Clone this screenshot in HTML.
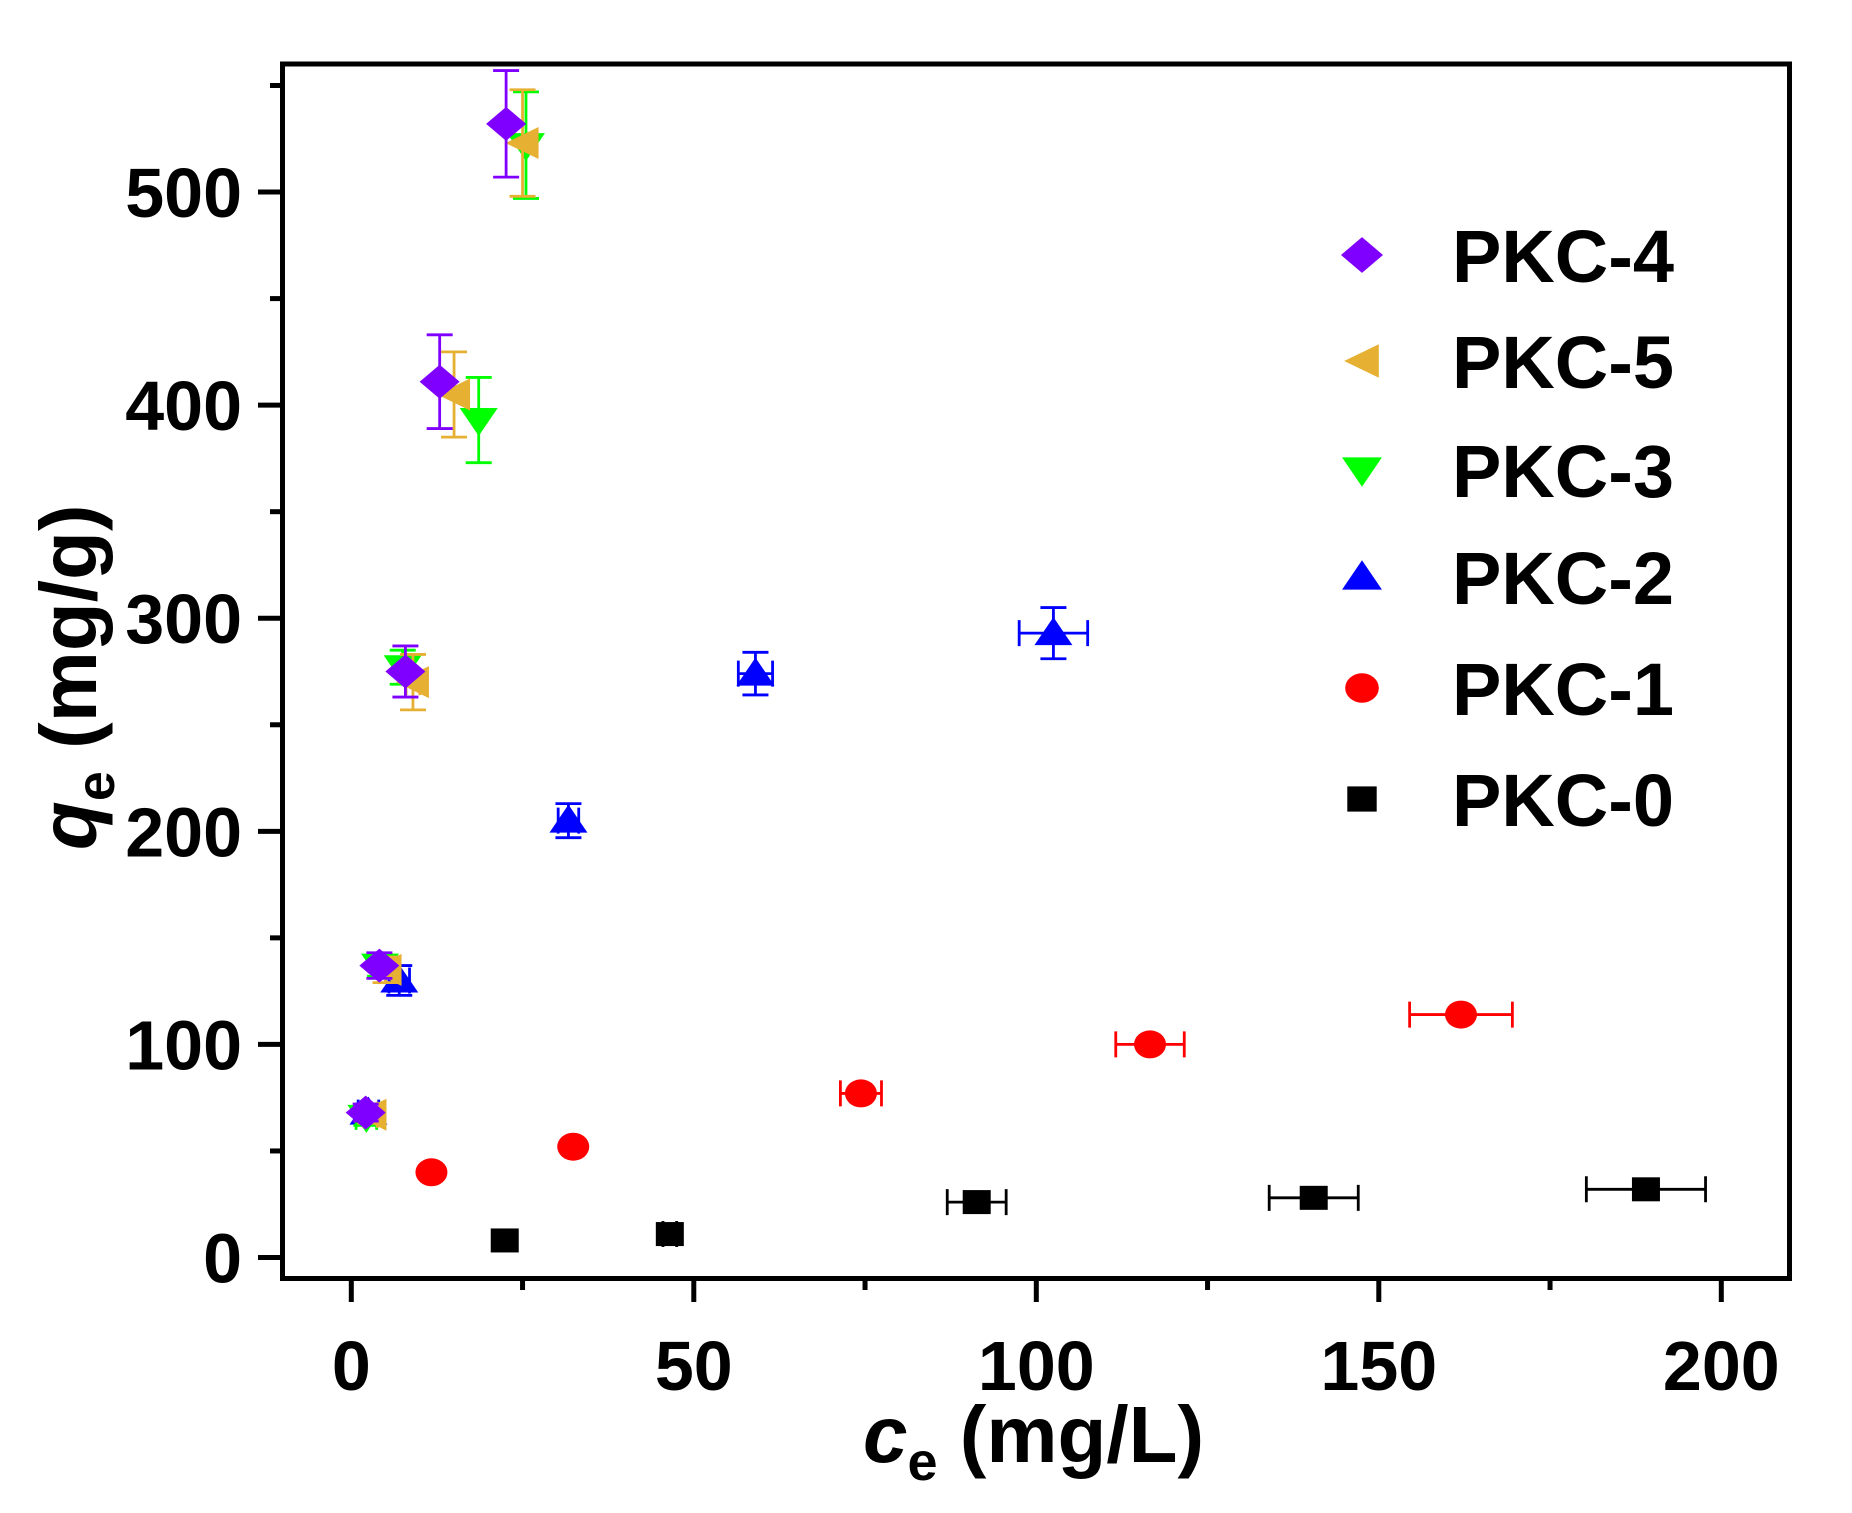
<!DOCTYPE html>
<html><head><meta charset="utf-8"><style>
html,body{margin:0;padding:0;background:#fff;}
svg{display:block;font-family:"Liberation Sans",Arial,sans-serif;font-weight:bold;}
</style></head><body>
<svg id="chart" width="1852" height="1513" viewBox="0 0 1852 1513" xmlns="http://www.w3.org/2000/svg">
<rect x="0" y="0" width="1852" height="1513" fill="#fff"/>
<g id="marks"></g>
<rect x="282.5" y="64" width="1507" height="1214.5" fill="none" stroke="#000" stroke-width="5"/>
<g id="axes"></g>
<text x="863" y="1462" font-size="80"><tspan font-style="italic">c</tspan><tspan font-size="54" dy="18">e</tspan><tspan dy="-18"> (mg/L)</tspan></text>
<text transform="translate(96,850) rotate(-90)" font-size="80"><tspan font-style="italic">q</tspan><tspan font-size="54" dy="18">e</tspan><tspan dy="-18"> (mg/g)</tspan></text>
<g id="legend"></g>
</svg>
<script>
const xTicks=[0,50,100,150,200];
const yTicks=[0,100,200,300,400,500];
const seriesNames=["PKC-0","PKC-1","PKC-2","PKC-3","PKC-5","PKC-4"];
const pkc0X=[22.4,46.5,91.3,140.5,189];
const pkc0Y=[8,11,26,28,32];
const pkc0Ex=[0,1,4.3,6.5,8.7];
const pkc0Ey=[0,0,0,0,0];
const pkc1X=[11.7,32.4,74.4,116.6,162];
const pkc1Y=[40,52,77,100,114];
const pkc1Ex=[0,0,3,5,7.5];
const pkc1Ey=[0,0,0,0,0];
const pkc2X=[2.5,7,31.7,59,102.5];
const pkc2Y=[68,130,205,274,293];
const pkc2Ex=[1.5,1.5,1.5,2.5,5];
const pkc2Ey=[4,7,8,10,12];
const pkc3X=[2.2,4.2,7.5,18.6,25.5];
const pkc3Y=[66,137,277,393,522];
const pkc3Ex=[1.5,1,0,0,0];
const pkc3Ey=[4,5,8,20,25];
const pkc5X=[2.8,5,9,15,25];
const pkc5Y=[67,135,270,405,523];
const pkc5Ex=[1,1,1,0,0];
const pkc5Ey=[4,6,13,20,25];
const pkc4X=[2.1,4.1,7.9,12.9,22.6];
const pkc4Y=[68,137,275,411,532];
const pkc4Ex=[0,0,0,0,0];
const pkc4Ey=[4,6,12,22,25];

const X0=351.3,X1=1721.3,Y0=1257.5,Y1=85.5;
function sx(v){return X0+(X1-X0)*v/200;}
function sy(v){return Y0+(Y1-Y0)*v/550;}
const NS="http://www.w3.org/2000/svg";
function mk(tag,attrs,parent){const e=document.createElementNS(NS,tag);for(const k in attrs)e.setAttribute(k,attrs[k]);parent.appendChild(e);return e;}

const axes=document.getElementById('axes');
for(let v=0;v<=200;v+=25){
  const major=v%50===0;
  const t=mk('line',{x1:sx(v),x2:sx(v),y1:1278,y2:major?1302:1290,stroke:'#000','stroke-width':5},axes);
  
  
}
xTicks.forEach(v=>{
  const t=mk('text',{x:sx(v),y:1390,'font-size':70,'text-anchor':'middle'},axes);
  t.textContent=v;
  
  
});
for(let v=0;v<=550;v+=50){
  const major=v%100===0;
  const t=mk('line',{x1:major?258:270,x2:282,y1:sy(v),y2:sy(v),stroke:'#000','stroke-width':5},axes);
  
  
}
yTicks.forEach(v=>{
  const t=mk('text',{x:242,y:sy(v)+25,'font-size':70,'text-anchor':'end'},axes);
  t.textContent=v;
  
  
});

function marker(shape,cx,cy,color,parent,k){
  k=k||1;let e;
  if(shape==='square') e=mk('rect',{x:cx-14*k,y:cy-12*k,width:28*k,height:24*k,fill:color},parent);
  else if(shape==='circle') e=mk('ellipse',{cx:cx,cy:cy,rx:16*k,ry:14*k,fill:color},parent);
  else if(shape==='up') e=mk('polygon',{points:`${cx},${cy-16*k} ${cx+19*k},${cy+12*k} ${cx-19*k},${cy+12*k}`,fill:color},parent);
  else if(shape==='down') e=mk('polygon',{points:`${cx-19*k},${cy-12*k} ${cx+19*k},${cy-12*k} ${cx},${cy+16*k}`,fill:color},parent);
  else if(shape==='left') e=mk('polygon',{points:`${cx-17*k},${cy} ${cx+16*k},${cy-16*k} ${cx+16*k},${cy+16*k}`,fill:color},parent);
  else e=mk('polygon',{points:`${cx},${cy-17*k} ${cx+20*k},${cy} ${cx},${cy+17*k} ${cx-20*k},${cy}`,fill:color},parent);
  return e;
}
const series=[
  {name:seriesNames[0],x:pkc0X,y:pkc0Y,ex:pkc0Ex,ey:pkc0Ey,color:'#000000',shape:'square'},
  {name:seriesNames[1],x:pkc1X,y:pkc1Y,ex:pkc1Ex,ey:pkc1Ey,color:'#ff0000',shape:'circle'},
  {name:seriesNames[2],x:pkc2X,y:pkc2Y,ex:pkc2Ex,ey:pkc2Ey,color:'#0000ff',shape:'up'},
  {name:seriesNames[3],x:pkc3X,y:pkc3Y,ex:pkc3Ex,ey:pkc3Ey,color:'#00ff00',shape:'down'},
  {name:seriesNames[4],x:pkc5X,y:pkc5Y,ex:pkc5Ex,ey:pkc5Ey,color:'#e6b033',shape:'left'},
  {name:seriesNames[5],x:pkc4X,y:pkc4Y,ex:pkc4Ex,ey:pkc4Ey,color:'#8000ff',shape:'diamond'}
];
const marks=document.getElementById('marks');
series.forEach(s=>{
  const g=mk('g',{},marks);
  
  
  s.x.forEach((xv,i)=>{
    const cx=sx(xv),cy=sy(s.y[i]);
    const st={stroke:s.color,'stroke-width':2.8,fill:'none'};
    if(s.ey[i]>0){
      const t=sy(s.y[i]+s.ey[i]),b=sy(s.y[i]-s.ey[i]);
      const eb=mk('path',Object.assign({d:`M${cx},${t}V${b}M${cx-13},${t}H${cx+13}M${cx-13},${b}H${cx+13}`},st),g);
      
      
    }
    if(s.ex[i]>0){
      const l=sx(xv-s.ex[i]),r=sx(xv+s.ex[i]);
      const eb=mk('path',Object.assign({d:`M${l},${cy}H${r}M${l},${cy-13}V${cy+13}M${r},${cy-13}V${cy+13}`},st),g);
      
      
    }
    const m=marker(s.shape,cx,cy,s.color,g);
    
    
  });
});

const legend=document.getElementById('legend');
const legOrder=[5,4,3,2,1,0];
const legY=[255,361,470,577,688,799];
legOrder.forEach((si,k)=>{
  const s=series[si];
  const g=mk('g',{},legend);
  
  
  marker(s.shape,1362,legY[k],s.color,g,1.05);
  const t=mk('text',{x:1452,y:legY[k]+27,'font-size':74},g);
  t.textContent=s.name;
});
</script>
</body></html>
